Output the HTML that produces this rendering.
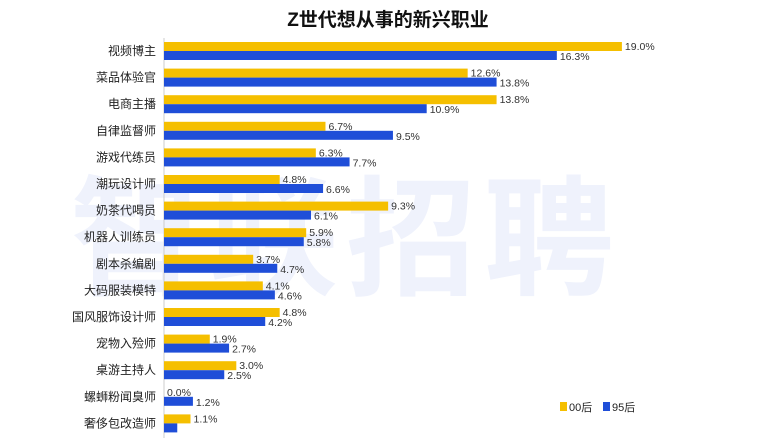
<!DOCTYPE html>
<html><head><meta charset="utf-8"><style>
body{margin:0;background:#fff;}
svg{display:block;font-family:"Liberation Sans","Noto Sans CJK SC",sans-serif;}
</style></head><body>
<svg width="776" height="438" viewBox="0 0 776 438">
<text x="70" y="285" font-size="130" font-weight="bold" fill="#eff2fc" letter-spacing="8">智联招聘</text>
<text x="388" y="26" text-anchor="middle" font-size="19" font-weight="bold" fill="#111">Z世代想从事的新兴职业</text>
<line x1="164" y1="38" x2="164" y2="438" stroke="#ccc" stroke-width="1"/>
<g id="bars"></g>
<rect x="560" y="402" width="7" height="9" fill="#F5BF00"/>
<text x="569" y="411" font-size="11" fill="#222">00后</text>
<rect x="603" y="402" width="7" height="9" fill="#1F4ED8"/>
<text x="612" y="411" font-size="11" fill="#222">95后</text>
</svg>
<script>
var d=[["视频博主",19.0,16.3],["菜品体验官",12.6,13.8],["电商主播",13.8,10.9],["自律监督师",6.7,9.5],["游戏代练员",6.3,7.7],["潮玩设计师",4.8,6.6],["奶茶代喝员",9.3,6.1],["机器人训练员",5.9,5.8],["剧本杀编剧",3.7,4.7],["大码服装模特",4.1,4.6],["国风服饰设计师",4.8,4.2],["宠物入殓师",1.9,2.7],["桌游主持人",3.0,2.5],["螺蛳粉闻臭师",0.0,1.2],["奢侈包改造师",1.1,0.55]];
var s="",k=24.1;
d.forEach(function(r,i){var y=42+i*26.6;
s+='<text x="156" y="'+(y+13)+'" text-anchor="end" font-size="12" fill="#222">'+r[0]+'</text>';
s+='<rect x="164" y="'+y+'" width="'+(r[1]*k)+'" height="9" fill="#F5BF00"/>';
s+='<rect x="164" y="'+(y+9)+'" width="'+(r[2]*k)+'" height="9" fill="#1F4ED8"/>';
s+='<text x="'+(167+r[1]*k)+'" y="'+(y+8)+'" font-size="10.5" fill="#333">'+r[1].toFixed(1)+'%</text>';
if(i<14)s+='<text x="'+(167+r[2]*k)+'" y="'+(y+18)+'" font-size="10.5" fill="#333">'+r[2].toFixed(1)+'%</text>';
});
document.getElementById("bars").innerHTML=s;
</script>
</body></html>
